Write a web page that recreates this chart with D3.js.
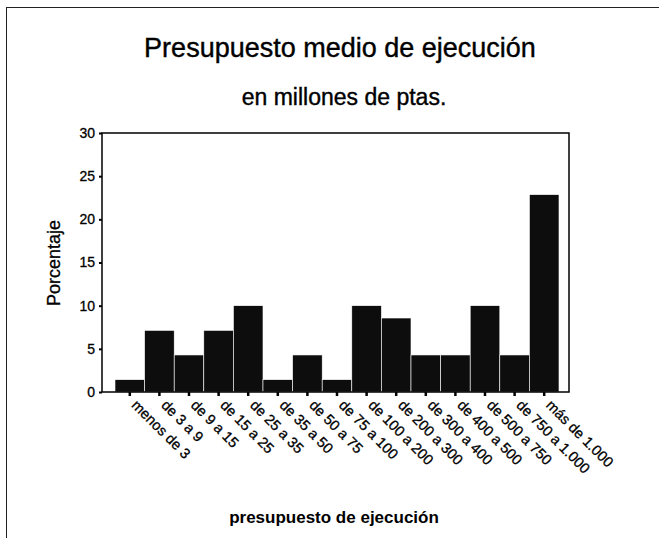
<!DOCTYPE html>
<html>
<head>
<meta charset="utf-8">
<script src="https://cdn.jsdelivr.net/npm/d3@7"></script>
<style>
  body { margin: 0; background: #fff; }
  text { font-family: "Liberation Sans", Arial, sans-serif; fill: #000; }
</style>
</head>
<body>
<svg></svg>
<script>
// categorias del eje x (presupuesto en millones de ptas.)
var categorias = ["menos de 3", "de 3 a 9", "de 9 a 15", "de 15 a 25", "de 25 a 35",
  "de 35 a 50", "de 50 a 75", "de 75 a 100", "de 100 a 200", "de 200 a 300",
  "de 300 a 400", "de 400 a 500", "de 500 a 750", "de 750 a 1.000", "más de 1.000"];
// porcentaje de cada categoria
var porcentajes = [1.43, 7.14, 4.29, 7.14, 10, 1.43, 4.29, 1.43, 10, 8.57, 4.29, 4.29, 10, 4.29, 22.86];
var yTicks = [0, 5, 10, 15, 20, 25, 30];

var width = 659, height = 538;
var svg = d3.select("svg").attr("width", width).attr("height", height);

// marco exterior (solo arriba e izquierda)
svg.append("line").attr("x1", 6).attr("y1", 7.5).attr("x2", 659).attr("y2", 7.5)
  .attr("stroke", "#222").attr("stroke-width", 1);
svg.append("line").attr("x1", 6.5).attr("y1", 7).attr("x2", 6.5).attr("y2", 538)
  .attr("stroke", "#222").attr("stroke-width", 1);

var mLeft = 102, mRight = 569, mTop = 133, mBottom = 392;

var x = d3.scaleBand().domain(categorias).range([115, 559]).padding(0);
var y = d3.scaleLinear().domain([0, 30]).range([mBottom, mTop]);

// titulos
svg.append("text").attr("x", 340).attr("y", 57).attr("text-anchor", "middle")
  .style("font-size", "27px").style("stroke", "#000").style("stroke-width", 0.4)
  .text("Presupuesto medio de ejecución");
svg.append("text").attr("x", 344).attr("y", 105).attr("text-anchor", "middle")
  .style("font-size", "23px").style("stroke", "#000").style("stroke-width", 0.4)
  .text("en millones de ptas.");

// barras
svg.selectAll("rect.bar").data(porcentajes).enter().append("rect")
  .attr("class", "bar")
  .attr("x", function(d, i) { return x(categorias[i]); })
  .attr("width", x.bandwidth())
  .attr("y", function(d) { return y(d); })
  .attr("height", function(d) { return y(0) - y(d); })
  .attr("fill", "#0d0d0d")
  .attr("stroke", "#fff")
  .attr("stroke-width", 0.6);

// marco del grafico
svg.append("rect").attr("x", mLeft).attr("y", mTop)
  .attr("width", mRight - mLeft).attr("height", mBottom - mTop)
  .attr("fill", "none").attr("stroke", "#000").attr("stroke-width", 1.5);

// eje y
var yAxis = svg.append("g").attr("transform", "translate(" + mLeft + ",0)")
  .call(d3.axisLeft(y).tickValues(yTicks).tickSize(3).tickPadding(4));
yAxis.select(".domain").remove();
yAxis.selectAll("line").attr("stroke-width", 2);
yAxis.selectAll("text").style("font-size", "14px")
  .style("font-family", "Liberation Sans, Arial, sans-serif")
  .style("stroke", "#000").style("stroke-width", 0.3);

// eje x
var xAxis = svg.append("g").attr("transform", "translate(0," + mBottom + ")")
  .call(d3.axisBottom(x).tickSize(4).tickFormat(""));
xAxis.select(".domain").remove();
xAxis.selectAll("line").attr("stroke-width", 2.5);

svg.selectAll("text.cat").data(categorias).enter().append("text")
  .attr("class", "cat")
  .attr("transform", function(d) {
    return "translate(" + (x(d) + x.bandwidth() / 2 + 1) + "," + (mBottom + 14) + ") rotate(45)";
  })
  .style("font-size", "14.5px").style("stroke", "#000").style("stroke-width", 0.3)
  .text(function(d) { return d; });

// titulos de ejes
svg.append("text").attr("transform", "translate(60,263) rotate(-90)")
  .attr("text-anchor", "middle").style("font-size", "18px")
  .style("stroke", "#000").style("stroke-width", 0.3).text("Porcentaje");
svg.append("text").attr("x", 334).attr("y", 523).attr("text-anchor", "middle")
  .style("font-size", "17px").style("font-weight", "bold").text("presupuesto de ejecución");
</script>
</body>
</html>
